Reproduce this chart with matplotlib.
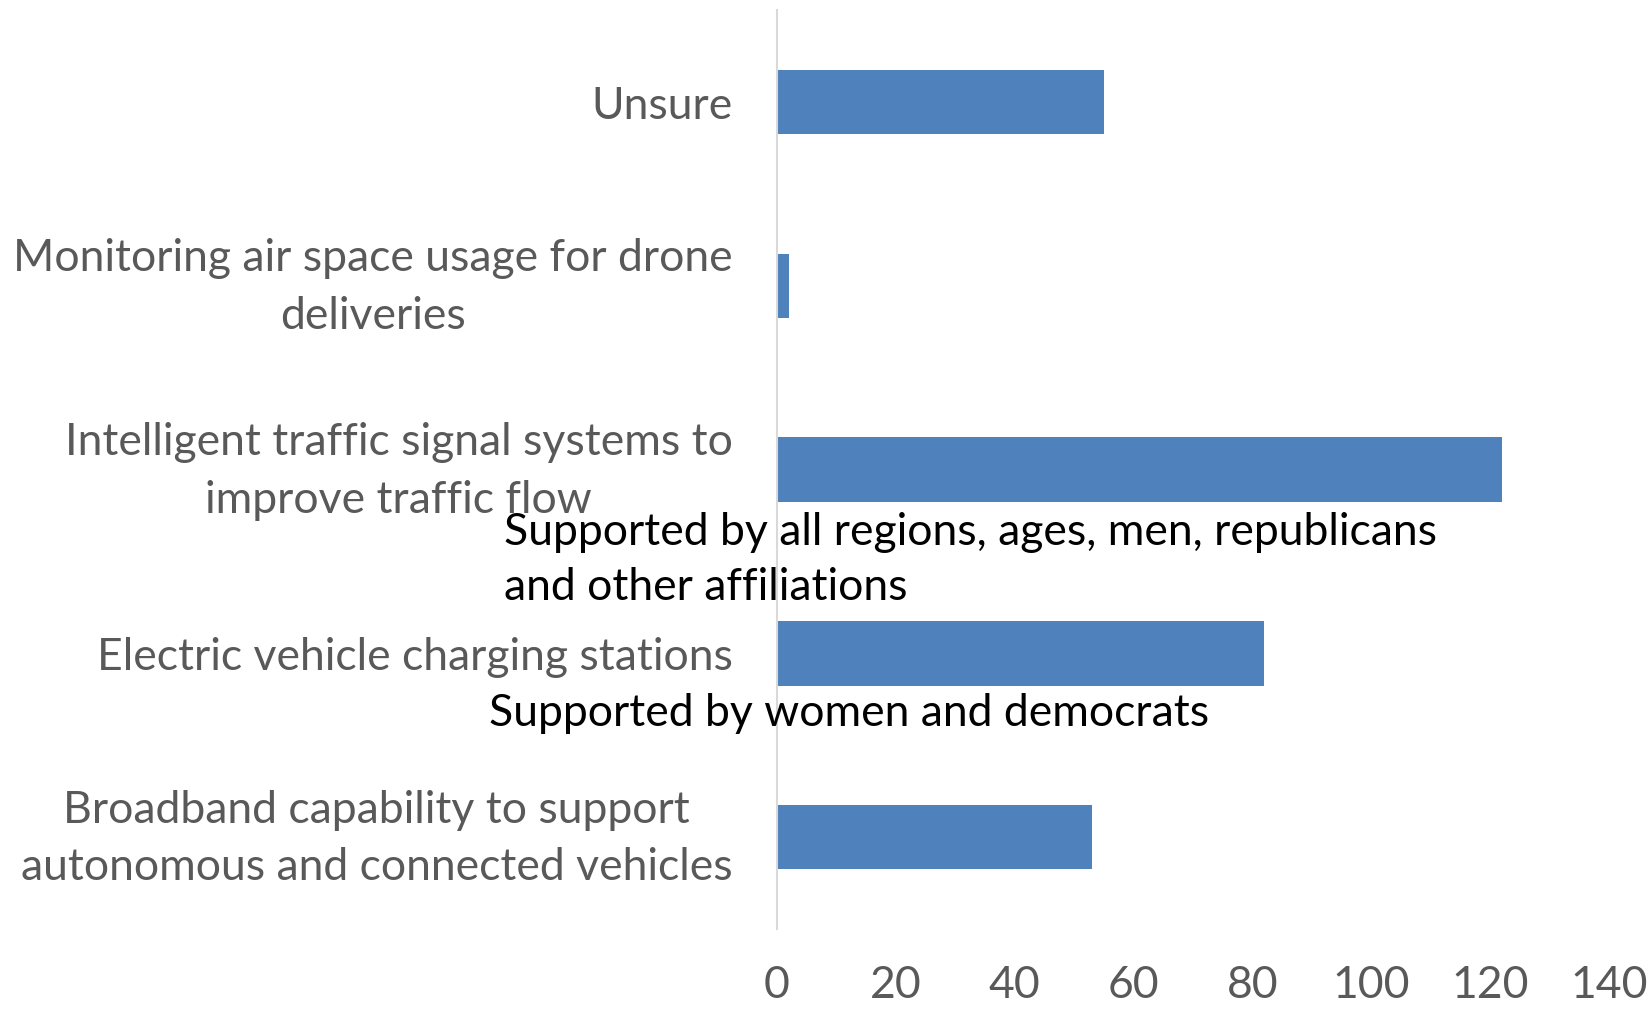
import matplotlib.pyplot as plt
from matplotlib.transforms import ScaledTranslation

plt.rcParams['font.family'] = ['Lato', 'DejaVu Sans']

# categories bottom to top
categories = ['Broadband capability to support\nautonomous and connected vehicles',
              'Electric vehicle charging stations',
              'Intelligent traffic signal systems to\nimprove traffic flow',
              'Monitoring air space usage for drone\ndeliveries',
              'Unsure']
values = [53, 82, 122, 2, 55]
xticks = [0, 20, 40, 60, 80, 100, 120, 140]

note_all = 'Supported by all regions, ages, men, republicans\nand other affiliations'
note_women = 'Supported by women and democrats'

fig = plt.figure(figsize=(16.49, 10.10), dpi=100)
ax = fig.add_axes([0.4712, 0.080, 0.5045, 0.910])

ax.barh(range(len(categories)), values, height=0.35, color='#4F81BD')
ax.set_xlim(0, 140)
ax.set_ylim(-0.5, len(categories) - 0.5)
ax.set_xticks(xticks)
ax.set_yticks(range(len(categories)))
ax.set_yticklabels(categories, multialignment='center', linespacing=1.5)

for s in ['top', 'right', 'bottom']:
    ax.spines[s].set_visible(False)
ax.spines['left'].set_color('#D9D9D9')
ax.spines['left'].set_linewidth(1.5)

ax.tick_params(axis='both', length=0, labelsize=32, colors='#595959')
ax.tick_params(axis='y', pad=32)
ax.tick_params(axis='x', pad=26)

# two-line labels sit a bit low, nudge them up
for lab in ax.get_yticklabels():
    if '\n' in lab.get_text():
        lab.set_transform(lab.get_transform() + ScaledTranslation(0, 7.5 / 72, fig.dpi_scale_trans))

fig.text(504 / 1649, 1 - 560 / 1010, note_all, fontsize=32, color='black',
         ha='left', va='center', linespacing=1.45)
fig.text(489 / 1649, 1 - 714 / 1010, note_women, fontsize=32, color='black',
         ha='left', va='center')

fig.savefig('out.png', dpi=100)
